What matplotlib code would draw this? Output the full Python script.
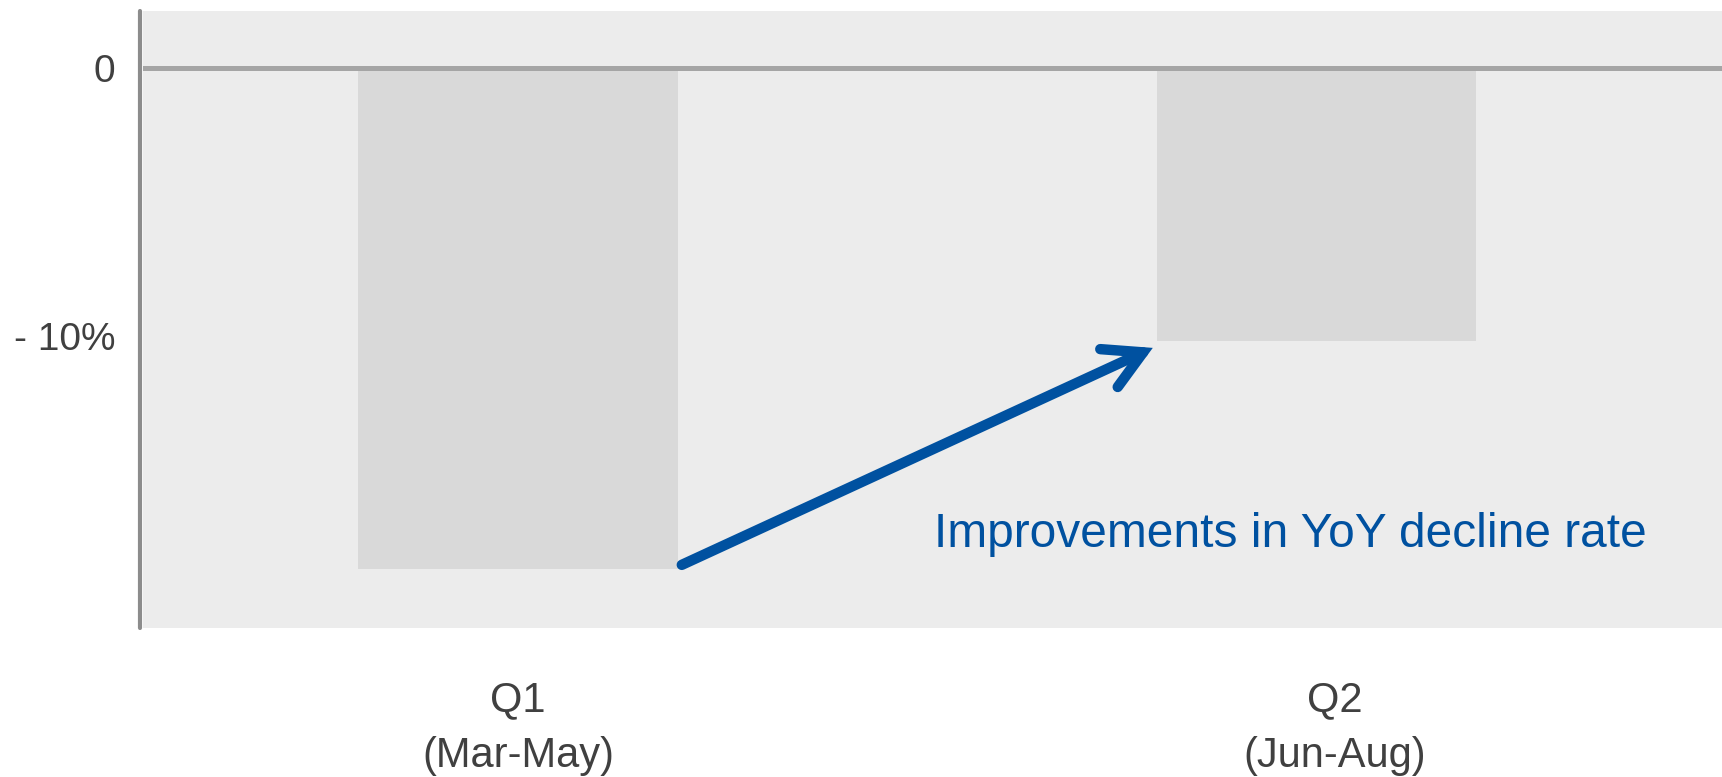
import matplotlib.pyplot as plt
import matplotlib.transforms as mtransforms
import numpy as np

plt.rcParams['font.family'] = ['Liberation Sans', 'DejaVu Sans']

# YoY change by quarter (%)
quarters = ['Q1\n(Mar-May)', 'Q2\n(Jun-Aug)']
yoy_change = [-18.7, -10.2]
yticks = [0, -10]
ytick_labels = ['0', '- 10%']
note = 'Improvements in YoY decline rate'

text_gray = '#404040'
blue = '#0051a0'

fig = plt.figure(figsize=(17.22, 7.77), dpi=100)
ax = fig.add_axes([0.083, 0.192, 0.917, 0.794])
ax.set_facecolor('#ececec')

x = np.arange(len(quarters))
ax.bar(x, yoy_change, width=0.4, color='#d9d9d9', zorder=2)
ax.axhline(0, color='#a5a5a5', lw=3.6, zorder=3)

ax.set_xlim(-0.47, 1.508)
ax.set_ylim(-20.9, 2.13)

ax.set_yticks(yticks)
ax.set_yticklabels(ytick_labels)
ax.set_xticks(x)
ax.set_xticklabels(quarters, linespacing=1.5)
ax.tick_params(axis='y', length=0, pad=18, labelsize=28, labelcolor=text_gray)
ax.tick_params(axis='x', length=0, pad=38, labelsize=30, labelcolor=text_gray)

# second quarter label sits a little right of its bar
lbl = ax.get_xticklabels()[1]
lbl.set_transform(lbl.get_transform() + mtransforms.ScaledTranslation(0.18, 0, fig.dpi_scale_trans))

for s in ['top', 'right', 'bottom']:
    ax.spines[s].set_visible(False)
ax.spines['left'].set_color('#8c8c8c')
ax.spines['left'].set_linewidth(3)
ax.spines['left'].set_capstyle('round')
ax.spines['left'].set_position(('outward', 2))

# arrow from the Q1 bar end up to the Q2 bar end
ax.annotate('', xy=(x[1] - 0.205, yoy_change[1] - 0.25),
            xytext=(x[0] + 0.205, yoy_change[0] + 0.15),
            arrowprops=dict(arrowstyle='->, head_length=2.7, head_width=1.5',
                            mutation_scale=10, color=blue, lw=7.5,
                            capstyle='round', joinstyle='miter',
                            shrinkA=0, shrinkB=0),
            zorder=4)
ax.text(0.521, -17.4, note, color=blue, fontsize=34.5, ha='left', va='center', zorder=4)

fig.savefig('out.png', dpi=100)
